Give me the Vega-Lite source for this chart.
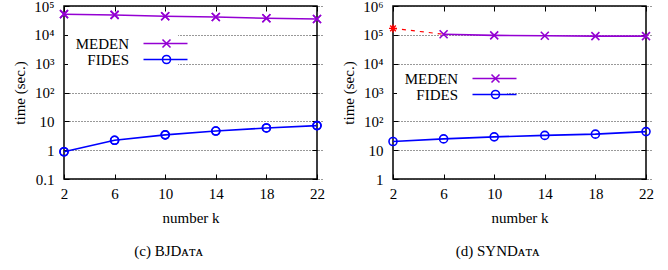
{
  "$schema": "https://vega.github.io/schema/vega-lite/v6.json",
  "padding": {"left": 12, "top": -2, "right": 5, "bottom": 6},
  "config": {
    "view": {"stroke": "black", "strokeWidth": 1.5},
    "axis": {
      "labelFontSize": 15, "titleFontSize": 15, "titleFontWeight": "normal",
      "labelColor": "black", "titleColor": "black",
      "domain": false, "tickColor": "black", "tickWidth": 1, "tickSize": 5, "offset": -5, "grid": false
    },
    "legend": {"orient": "none", "title": null, "direction": "vertical", "labelAlign": "right", "labelOffset": -44,
               "labelFontSize": 15, "labelColor": "black",
               "symbolStrokeWidth": 1.6, "rowPadding": -3, "padding": 4},
    "title": {"font": "'Liberation Serif', 'Times New Roman', 'DejaVu Serif', serif", "fontSize": 15, "fontWeight": "normal", "orient": "bottom", "frame": "bounds", "anchor": "middle", "color": "black", "offset": 19},
    "concat": {"spacing": 15}
  },
  "resolve": {"scale": {"color": "independent", "shape": "independent", "stroke": "independent"}, "legend": {"color": "independent", "shape": "independent", "stroke": "independent"}},
  "datasets": {
    "d": [
      {"panel": "BJ", "series": "MEDEN", "k": 2, "time": 52000},
      {"panel": "BJ", "series": "MEDEN", "k": 6, "time": 49000},
      {"panel": "BJ", "series": "MEDEN", "k": 10, "time": 44000},
      {"panel": "BJ", "series": "MEDEN", "k": 14, "time": 41500},
      {"panel": "BJ", "series": "MEDEN", "k": 18, "time": 37500},
      {"panel": "BJ", "series": "MEDEN", "k": 22, "time": 35500},
      {"panel": "BJ", "series": "FIDES", "k": 2, "time": 0.88},
      {"panel": "BJ", "series": "FIDES", "k": 6, "time": 2.2},
      {"panel": "BJ", "series": "FIDES", "k": 10, "time": 3.4},
      {"panel": "BJ", "series": "FIDES", "k": 14, "time": 4.6},
      {"panel": "BJ", "series": "FIDES", "k": 18, "time": 5.9},
      {"panel": "BJ", "series": "FIDES", "k": 22, "time": 7.1},
      {"panel": "SYN", "series": "MEDEN_est", "k": 2, "time": 167000},
      {"panel": "SYN", "series": "MEDEN_est", "k": 6, "time": 105000},
      {"panel": "SYN", "series": "MEDEN", "k": 6, "time": 105000},
      {"panel": "SYN", "series": "MEDEN", "k": 10, "time": 96000},
      {"panel": "SYN", "series": "MEDEN", "k": 14, "time": 93000},
      {"panel": "SYN", "series": "MEDEN", "k": 18, "time": 90000},
      {"panel": "SYN", "series": "MEDEN", "k": 22, "time": 90000},
      {"panel": "SYN", "series": "FIDES", "k": 2, "time": 20},
      {"panel": "SYN", "series": "FIDES", "k": 6, "time": 24.6},
      {"panel": "SYN", "series": "FIDES", "k": 10, "time": 29},
      {"panel": "SYN", "series": "FIDES", "k": 14, "time": 32.5},
      {"panel": "SYN", "series": "FIDES", "k": 18, "time": 36},
      {"panel": "SYN", "series": "FIDES", "k": 22, "time": 44}
    ]
  },
  "hconcat": [
    {
      "width": 253, "height": 173,
      "title": {"text": "(c)  BJDᴀᴛᴀ"},
      "data": {"name": "d"},
      "transform": [{"filter": "datum.panel == 'BJ'"}],
      "resolve": {"axis": {"x": "independent", "y": "independent"}},
      "encoding": {
        "x": {"field": "k", "type": "quantitative", "scale": {"domain": [2, 22], "nice": false, "zero": false}, "axis": null},
        "y": {"field": "time", "type": "quantitative", "scale": {"type": "log", "domain": [0.1, 100000], "nice": false}, "axis": null}
      },
      "layer": [
        {
          "transform": [{"filter": "datum.series != 'MEDEN_est'"}],
          "mark": {"type": "point", "filled": false, "strokeWidth": 1.6, "size": 64, "opacity": 1},
          "encoding": {
            "x": {"field": "k", "type": "quantitative", "scale": {"domain": [2, 22], "nice": false, "zero": false},
                  "axis": {"orient": "bottom", "values": [2, 6, 10, 14, 18, 22], "title": "number k", "labelPadding": 7, "labelFlush": false, "titlePadding": 9,
                           "labelFont": "'Liberation Serif', 'Times New Roman', serif", "titleFont": "'Liberation Serif', 'Times New Roman', serif"}},
            "y": {"field": "time", "type": "quantitative", "scale": {"type": "log", "domain": [0.1, 100000], "nice": false},
                  "axis": {"orient": "left", "values": [0.1, 1, 10, 100, 1000, 10000, 100000], "title": "time (sec.)", "labelPadding": 10, "titlePadding": 6,
                           "labelFont": "'Liberation Serif', 'Times New Roman', serif", "titleFont": "'Liberation Serif', 'Times New Roman', serif",
                           "grid": true, "gridDash": [1, 2], "gridColor": "#333", "gridWidth": 1,
                           "labelExpr": "datum.value >= 100 ? '10' + ['','','²','³','⁴','⁵','⁶'][round(log(datum.value)/LN10)] : (datum.value < 1 ? '0.1' : format(datum.value, 'd'))"}},
            "color": {"field": "series", "type": "nominal", "scale": {"domain": ["MEDEN", "FIDES"], "range": ["#9400d3", "#0000ff"]},
                      "legend": {"legendX": 4, "legendY": 26, "symbolSize": 64, "symbolOffset": 87, "labelColor": "transparent", "fillColor": "white", "labelFont": "'Liberation Serif', 'Times New Roman', serif"}},
            "shape": {"field": "series", "type": "nominal", "scale": {"domain": ["MEDEN", "FIDES"], "range": ["M-1,-1L1,1M-1,1L1,-1", "circle"]},
                      "legend": {"legendX": 4, "legendY": 26, "symbolSize": 64, "symbolOffset": 87, "labelColor": "transparent", "fillColor": "white", "labelFont": "'Liberation Serif', 'Times New Roman', serif"}}
          }
        },
        {
          "transform": [{"filter": "datum.series != 'MEDEN_est'"}],
          "mark": {"type": "line", "strokeWidth": 1.6},
          "encoding": {
            "stroke": {"field": "series", "type": "nominal",
                      "scale": {"domain": ["MEDEN", "FIDES", "MEDEN_est"], "range": ["#9400d3", "#0000ff", "#ff0000"]},
                      "legend": {"legendX": 4, "legendY": 26, "values": ["MEDEN", "FIDES"], "symbolSize": 100, "symbolOffset": 86, "symbolType": "M-4.4,0H4.4", "labelFont": "'Liberation Serif', 'Times New Roman', serif"}}
          }
        },
        {
          "transform": [{"filter": "datum.series != 'MEDEN_est'"}],
          "mark": {"type": "point", "filled": false, "strokeWidth": 1.6, "size": 64, "opacity": 1},
          "encoding": {
            "color": {"field": "series", "type": "nominal", "legend": null},
            "shape": {"field": "series", "type": "nominal", "legend": null}
          }
        },
        {
          "mark": {"type": "point", "opacity": 0},
          "encoding": {
            "x": {"field": "k", "type": "quantitative", "axis": {"orient": "top", "values": [2, 6, 10, 14, 18, 22], "labels": false, "title": null}},
            "y": {"field": "time", "type": "quantitative", "axis": {"orient": "right", "values": [0.1, 1, 10, 100, 1000, 10000, 100000], "labels": false, "title": null}}
          }
        }
      ]
    },
    {
      "width": 253, "height": 173,
      "title": {"text": "(d)  SYNDᴀᴛᴀ"},
      "data": {"name": "d"},
      "transform": [{"filter": "datum.panel == 'SYN'"}],
      "resolve": {"axis": {"x": "independent", "y": "independent"}},
      "encoding": {
        "x": {"field": "k", "type": "quantitative", "scale": {"domain": [2, 22], "nice": false, "zero": false}, "axis": null},
        "y": {"field": "time", "type": "quantitative", "scale": {"type": "log", "domain": [1, 1000000], "nice": false}, "axis": null}
      },
      "layer": [
        {
          "transform": [{"filter": "datum.series != 'MEDEN_est'"}],
          "mark": {"type": "point", "filled": false, "strokeWidth": 1.6, "size": 64, "opacity": 1},
          "encoding": {
            "x": {"field": "k", "type": "quantitative", "scale": {"domain": [2, 22], "nice": false, "zero": false},
                  "axis": {"orient": "bottom", "values": [2, 6, 10, 14, 18, 22], "title": "number k", "labelPadding": 7, "labelFlush": false, "titlePadding": 9,
                           "labelFont": "'Liberation Serif', 'Times New Roman', serif", "titleFont": "'Liberation Serif', 'Times New Roman', serif"}},
            "y": {"field": "time", "type": "quantitative", "scale": {"type": "log", "domain": [1, 1000000], "nice": false},
                  "axis": {"orient": "left", "values": [1, 10, 100, 1000, 10000, 100000, 1000000], "title": "time (sec.)", "labelPadding": 10, "titlePadding": 6,
                           "labelFont": "'Liberation Serif', 'Times New Roman', serif", "titleFont": "'Liberation Serif', 'Times New Roman', serif",
                           "grid": true, "gridDash": [1, 2], "gridColor": "#333", "gridWidth": 1,
                           "labelExpr": "datum.value >= 100 ? '10' + ['','','²','³','⁴','⁵','⁶'][round(log(datum.value)/LN10)] : (datum.value < 1 ? '0.1' : format(datum.value, 'd'))"}},
            "color": {"field": "series", "type": "nominal", "scale": {"domain": ["MEDEN", "FIDES"], "range": ["#9400d3", "#0000ff"]},
                      "legend": {"legendX": 4, "legendY": 61, "symbolSize": 64, "symbolOffset": 87, "labelColor": "transparent", "fillColor": "white", "labelFont": "'Liberation Serif', 'Times New Roman', serif"}},
            "shape": {"field": "series", "type": "nominal", "scale": {"domain": ["MEDEN", "FIDES"], "range": ["M-1,-1L1,1M-1,1L1,-1", "circle"]},
                      "legend": {"legendX": 4, "legendY": 61, "symbolSize": 64, "symbolOffset": 87, "labelColor": "transparent", "fillColor": "white", "labelFont": "'Liberation Serif', 'Times New Roman', serif"}}
          }
        },
        {
          "transform": [{"filter": "datum.series == 'MEDEN_est'"}],
          "mark": {"type": "line", "strokeWidth": 1.2, "strokeDash": [4, 5], "color": "#ff0000"},
          "encoding": {}
        },
        {
          "transform": [{"filter": "datum.series == 'MEDEN_est' && datum.k == 2"}],
          "mark": {"type": "point", "filled": false, "strokeWidth": 1.4, "size": 64, "color": "#ff0000", "shape": "M-1,0H1M0,-1V1M-0.7,-0.7L0.7,0.7M-0.7,0.7L0.7,-0.7", "opacity": 1},
          "encoding": {}
        },
        {
          "transform": [{"filter": "datum.series != 'MEDEN_est'"}],
          "mark": {"type": "line", "strokeWidth": 1.6},
          "encoding": {
            "stroke": {"field": "series", "type": "nominal",
                      "scale": {"domain": ["MEDEN", "FIDES", "MEDEN_est"], "range": ["#9400d3", "#0000ff", "#ff0000"]},
                      "legend": {"legendX": 4, "legendY": 61, "values": ["MEDEN", "FIDES"], "symbolSize": 100, "symbolOffset": 86, "symbolType": "M-4.4,0H4.4", "labelFont": "'Liberation Serif', 'Times New Roman', serif"}}
          }
        },
        {
          "mark": {"type": "point", "opacity": 0},
          "encoding": {
            "x": {"field": "k", "type": "quantitative", "axis": {"orient": "top", "values": [2, 6, 10, 14, 18, 22], "labels": false, "title": null}},
            "y": {"field": "time", "type": "quantitative", "axis": {"orient": "right", "values": [1, 10, 100, 1000, 10000, 100000, 1000000], "labels": false, "title": null}}
          }
        }
      ]
    }
  ]
}
